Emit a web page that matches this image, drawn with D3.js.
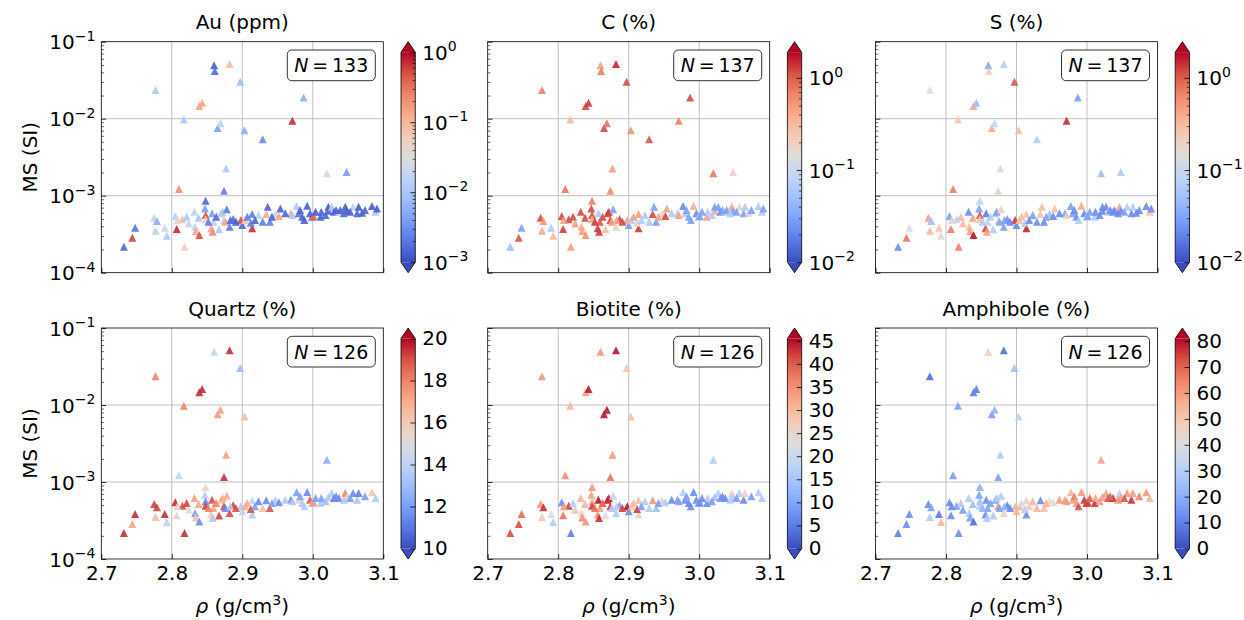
<!DOCTYPE html>
<html>
<head>
<meta charset="utf-8">
<script src="https://d3js.org/d3.v7.min.js"></script>
<style>
  body { margin: 0; background: #fff; }
  text { font-family: 'DejaVu Sans', sans-serif; }
</style>
</head>
<body>
<div id="chart"></div>
<script>
// shared sample positions: density (g/cm3) and magnetic susceptibility (SI)
const rho = [
  2.777, 2.860, 2.861, 2.882, 2.897, 2.839, 2.843, 2.817, 2.865, 2.869,
  2.903, 2.929, 2.971, 2.987, 3.020, 3.048, 2.877, 2.810, 2.874, 2.848,
  2.732, 2.744, 2.748, 2.775, 2.779, 2.777, 2.790, 2.793, 2.805, 2.807,
  2.818, 2.815, 2.821, 2.808, 2.832, 2.833, 2.834, 2.839, 2.847, 2.848,
  2.848, 2.857, 2.856, 2.858, 2.859, 2.867, 2.870, 2.872, 2.874, 2.878,
  2.876, 2.882, 2.887, 2.900, 2.898, 2.904, 2.914, 2.914, 2.912, 2.923,
  2.929, 2.934, 2.936, 2.939, 2.947, 2.952, 2.954, 2.969, 2.971, 2.977,
  2.980, 2.985, 2.988, 2.992, 2.996, 2.999, 3.001, 3.011, 3.012, 3.022,
  3.022, 3.027, 3.030, 3.037, 3.039, 3.046, 3.048, 3.057, 3.063, 3.065,
  3.070, 3.084, 3.089, 3.091,
  2.863, 2.883, 2.891, 2.907, 2.918, 2.942, 2.961, 2.982, 3.004, 3.018,
  3.033, 3.044, 3.053, 3.074, 2.852, 2.838, 2.824
];
const ms = [
  0.0236, 0.0493, 0.0416, 0.0513, 0.0303, 0.0146, 0.0161, 0.0098, 0.0076, 0.0087,
  0.0071, 0.0054, 0.0094, 0.0189, 0.00195, 0.00203, 0.00226, 0.00122, 0.00116, 0.00086,
  2.18e-4, 2.85e-4, 3.84e-4, 5.18e-4, 4.69e-4, 3.51e-4, 3.84e-4, 3.03e-4, 5.44e-4, 3.69e-4,
  2.18e-4, 4.93e-4, 5.33e-4, 4.83e-4, 6.19e-4, 3.95e-4, 3.47e-4, 3.08e-4, 6.84e-4, 5.61e-4,
  4.93e-4, 5.90e-4, 3.77e-4, 3.41e-4, 4.59e-4, 3.66e-4, 5.90e-4, 6.19e-4, 4.83e-4, 6.65e-4,
  4.59e-4, 3.95e-4, 4.98e-4, 4.16e-4, 4.83e-4, 4.83e-4, 3.77e-4, 5.78e-4, 4.46e-4, 5.61e-4,
  4.59e-4, 5.78e-4, 7.19e-4, 4.59e-4, 5.78e-4, 5.44e-4, 6.84e-4, 5.90e-4, 5.61e-4, 7.35e-4,
  5.90e-4, 5.33e-4, 4.83e-4, 7.41e-4, 5.90e-4, 5.33e-4, 5.44e-4, 5.33e-4, 6.19e-4, 6.38e-4,
  7.19e-4, 7.19e-4, 6.19e-4, 6.19e-4, 6.51e-4, 7.19e-4, 6.38e-4, 7.19e-4, 5.90e-4, 7.19e-4,
  6.01e-4, 7.35e-4, 6.19e-4, 6.84e-4,
  5.33e-4, 4.83e-4, 4.59e-4, 5.33e-4, 4.83e-4, 5.33e-4, 5.90e-4, 6.51e-4, 6.19e-4, 5.61e-4,
  6.51e-4, 5.90e-4, 6.19e-4, 6.51e-4, 4.59e-4, 5.18e-4, 4.37e-4
];

// colour values per panel (null = not analysed)
const au = [
  0.011, 0.0014, 0.0017, 0.09, 0.0079, 0.14, 0.14, 0.011, 0.004, 0.014,
  0.0056, 0.0028, 0.71, 0.0056, 0.045, 0.004, 0.011, 0.22, 0.0023, 0.0016,
  0.0016, 0.58, 0.0018, 0.016, 0.0056, 0.014, 0.022, 0.011, 0.014, 0.71,
  0.045, 0.09, 0.011, 0.045, 0.014, 0.016, 0.14, 0.5, 0.004, 0.5,
  0.045, 0.004, 0.14, 0.22, 0.014, 0.011, 0.014, 0.011, 0.016, 0.0022,
  0.14, 0.0022, 0.0018, 0.0016, 0.5, 0.072, 0.71, 0.0022, 0.0022, 0.014,
  0.0022, 0.13, 0.0015, 0.0022, 0.016, 0.14, 0.0015, 0.14, 0.011, 0.011,
  0.0018, 0.0014, 0.0014, 0.0014, 0.0013, 0.0015, 0.35, 0.0014, 0.0015, 0.0014,
  0.0013, 0.011, 0.0014, 0.014, 0.0014, 0.0013, 0.0013, 0.014, 0.0015, 0.0013,
  0.0015, 0.0013, 0.011, 0.0013,
  0.0016, 0.0016, 0.0013, 0.0022, 0.0014, 0.0014, 0.0015, 0.0014, 0.0013, 0.0015,
  0.0014, 0.0016, 0.0014, 0.0015, 0.0022, 0.011, 0.016
];
const carbon = [
  0.69, 0.45, 0.69, 1.5, 1.17, 1.17, 1.3, 0.31, 1.17, 0.77,
  0.53, 1.05, 0.69, 1.17, 0.77, 0.18, 0.45, 0.77, 0.62, 0.69,
  0.049, 1.05, 0.029, 1.17, 0.53, 0.41, 0.064, 0.31, 1.17, 1.3,
  0.45, 1.17, 1.17, 0.45, 1.17, 0.41, 0.45, 0.53, 1.17, 1.17,
  0.41, 0.064, 1.3, 1.3, 1.05, 0.27, 1.17, 1.3, 1.17, 0.029,
  0.45, 0.2, 1.17, 0.029, 0.45, 0.064, 1.3, 0.45, 0.18, 0.064,
  0.064, 1.17, 0.029, 0.029, 0.18, 1.17, 0.45, 0.075, 0.45, 0.022,
  0.064, 0.029, 0.029, 0.37, 0.022, 0.064, 0.029, 0.45, 0.064, 0.41,
  0.029, 0.029, 0.022, 0.064, 0.029, 0.41, 0.029, 0.18, 0.029, 0.064,
  0.18, 0.064, 0.064, 0.029,
  1.17, 0.45, 1.17, 0.45, 0.064, 0.45, 0.064, 0.029, 0.029, 0.064,
  0.029, 0.064, 0.029, 0.029, 1.3, 1.17, 0.45
];
const sulfur = [
  0.14, 0.032, 0.2, 0.075, 1.05, 0.41, 0.049, 0.24, 0.37, 0.083,
  0.31, 0.064, 1.5, 0.029, 0.049, 0.064, 0.108, 0.69, 0.2, 0.083,
  0.022, 0.77, 0.127, 0.45, 0.049, 0.31, 0.27, 0.14, 0.029, 0.69,
  0.69, 0.075, 0.31, 0.18, 0.022, 0.31, 0.45, 1.7, 0.029, 1.05,
  0.27, 0.019, 1.17, 0.45, 0.083, 0.064, 0.064, 0.029, 0.18, 0.21,
  0.029, 0.029, 0.022, 0.022, 1.3, 0.27, 1.5, 0.27, 0.064, 0.029,
  0.022, 0.27, 0.31, 0.022, 0.049, 0.022, 0.27, 0.029, 0.21, 0.029,
  0.029, 0.022, 0.064, 0.41, 0.022, 0.064, 0.029, 0.064, 0.022, 0.022,
  0.022, 0.022, 0.064, 0.022, 0.022, 0.41, 0.022, 0.064, 0.022, 0.064,
  0.022, 0.022, 0.27, 0.022,
  0.064, 0.029, 0.022, 0.31, 0.022, 0.029, 0.022, 0.022, 0.029, 0.022,
  0.022, 0.022, 0.029, 0.022, 0.064, 0.45, 0.31
];
const quartz = [
  18, 14, null, 19.5, 13, 19.5, 19.5, 18, 17.5, 17.2,
  16.5, null, null, null, 12.5, null, 17.2, 14, 19.5, 15.5,
  19.5, 17.2, 19.5, 19.2, 19.2, 16.5, 19.5, 14, 19.5, 15.5,
  19.5, 19, 19.2, 15.5, 17.2, 12, 16.5, 11.5, 13.8, 11.5,
  19.2, 19, 16.2, 13.5, 17.2, 19.2, 16.5, 17, 19.2, 17,
  11.5, 19, 19.2, 14, 13.5, 17, 13.5, 14, 19, 11.5,
  16.5, 11.5, null, 19, 13.5, 11.5, null, 11.5, 13.5, 12,
  15.5, 13.5, 13.5, 11.5, 18.8, 13.5, 17.5, 13.5, 12, 13.5,
  null, 13.5, 11.2, 11.5, null, 18, 15.8, 11.5, 13.5, 11.2,
  null, 16.2, 13.5, null,
  18, 13.5, 19, 17, 12, 12, 13.5, 12, 12, 13,
  11.5, 13.5, 12, 12, 18, 17, 15
];
const biotite = [
  34, 34, null, 44.5, 28, 33, 44.5, 30.5, 44.5, 44.5,
  29, null, null, null, 16.5, null, 34, 35, 37.5, 34,
  41, 41, 38.5, 34, 43, 27, 22, 16.5, 7, 37.5,
  5.5, 42, 16.5, 34, 30.5, 26, 35, 34, 33, 30.5,
  42, 44.5, 34, 43, 33, 22.5, 44.5, 43, 42, 19,
  16.5, 16.5, 9.5, 7, 44.5, 28, 26, 29, 42, 16.5,
  16.5, 34, null, 14, 26, 16.5, null, 9.5, 9.5, 16.5,
  7, 7, 7, 7, 7, 9.5, 7, 7, 16.5, 14,
  null, 16.5, 9.5, 7, null, 26, 16.5, 16.5, 7, 26,
  null, 16.5, 16.5, null,
  40, 16.5, 42, 30, 9, 9, 7, 9.5, 7, 9,
  7, 16.5, 9, 9, 38, 30, 28
];
const amphibole = [
  6.5, 47, null, 6.5, 25, 10, 10, 16.5, 16.5, 21,
  31.5, null, null, null, 58, null, 29, 16.5, 16.5, 21,
  10, 12.5, 12.5, 12.5, 16.5, 29, 8.3, 54, 12.5, 12.5,
  12.5, 16.5, 29, 12.5, 29, 29, 16.5, 6.5, 16.5, 25,
  29, 12.5, 12.5, 29, 16.5, 29, 16.5, 29, 62, 29,
  16.5, 47, 10, 54, 54, 54, 12.5, 45.5, 29, 54,
  54, 12.5, null, 51.5, 41.5, 41.5, null, 60, 60, 54,
  60, 60, 73, 60, 76, 75, 75, 76, 58, 60,
  null, 58, 73, 76, null, 33, 58, 60, 76, 60,
  null, 60, 54, null,
  16.5, 21, 12.5, 40, 50, 55, 60, 65, 70, 60,
  70, 62, 72, 65, 21, 25, 16.5
];

const titles = ['Au (ppm)', 'C (%)', 'S (%)', 'Quartz (%)', 'Biotite (%)', 'Amphibole (%)'];
const nCounts = [133, 137, 137, 126, 126, 126];
const cbLog = [true, true, true, false, false, false];
const cbDomains = [[1e-3, 1], [1e-2, 1.9], [1e-2, 1.9], [10, 20], [0, 45.5], [0, 81]];
const cbTicks = [
  [1e-3, 1e-2, 1e-1, 1], [1e-2, 1e-1, 1], [1e-2, 1e-1, 1],
  [10, 12, 14, 16, 18, 20], [0, 5, 10, 15, 20, 25, 30, 35, 40, 45], [0, 10, 20, 30, 40, 50, 60, 70, 80]
];
const xTicks = [2.7, 2.8, 2.9, 3.0, 3.1];
const yTicks = [1e-4, 1e-3, 1e-2, 1e-1];

const panelValues = [au, carbon, sulfur, quartz, biotite, amphibole];

// layout
const W = 1244, H = 620;
const plotW = 282, plotH = 231;
const colLeft = [101.3, 487.7, 875.5];
const rowTop = [41.7, 328];
const cbGap = 17.7, cbW = 14.3;
const FS = 20;

const coolwarm = d3.piecewise(d3.interpolateRgb, [
  '#3b4cc0', '#5977e3', '#7b9ff9', '#9ebeff', '#c0d4f5', '#dddcdc',
  '#f2cbb7', '#f7ac8e', '#ee8468', '#d65244', '#b40426'
]);

const svg = d3.select('#chart').append('svg')
  .attr('width', W).attr('height', H)
  .style('background', '#fff');

const grad = svg.append('defs').append('linearGradient')
  .attr('id', 'cw').attr('x1', 0).attr('y1', 1).attr('x2', 0).attr('y2', 0);
d3.range(0, 1.0001, 0.05).forEach(t => {
  grad.append('stop').attr('offset', t).attr('stop-color', coolwarm(t));
});

const x = d3.scaleLinear().domain([2.7, 3.1]).range([0, plotW]);
const y = d3.scaleLog().domain([1e-4, 1e-1]).range([plotH, 0]);

function logMinors(lo, hi) {
  const out = [];
  for (let e = Math.floor(Math.log10(lo)); e <= Math.ceil(Math.log10(hi)); e++) {
    for (let k = 2; k <= 9; k++) {
      const v = k * Math.pow(10, e);
      if (v >= lo * 0.999 && v <= hi * 1.001) out.push(v);
    }
  }
  return out;
}

// "10^e" label with a raised exponent
function powLabel(g, px, py, v, anchor) {
  const e = Math.round(Math.log10(v));
  const t = g.append('text')
    .attr('x', px).attr('y', py + 7.5)
    .attr('text-anchor', anchor)
    .attr('font-size', FS);
  t.append('tspan').text('10');
  t.append('tspan').attr('dy', -8.5).attr('font-size', FS * 0.7)
    .text(e < 0 ? '\u2212' + Math.abs(e) : String(e));
}

function styleAxis(sel, w) {
  sel.select('.domain').remove();
  sel.selectAll('.tick line').attr('stroke', '#000').attr('stroke-width', w);
  sel.selectAll('text').attr('font-size', FS).attr('font-family', 'DejaVu Sans').attr('fill', '#000');
}

panelValues.forEach((vals, i) => {
  const row = Math.floor(i / 3), col = i % 3;
  const g = svg.append('g').attr('transform', `translate(${colLeft[col]},${rowTop[row]})`);

  // grid
  g.selectAll('line.gx').data(xTicks.slice(1, -1)).join('line')
    .attr('x1', d => x(d)).attr('x2', d => x(d)).attr('y1', 0).attr('y2', plotH)
    .attr('stroke', '#b0b0b0').attr('stroke-width', 0.8);
  g.selectAll('line.gy').data(yTicks.slice(1, -1)).join('line')
    .attr('y1', d => y(d)).attr('y2', d => y(d)).attr('x1', 0).attr('x2', plotW)
    .attr('stroke', '#b0b0b0').attr('stroke-width', 0.8);

  // colour scale for this panel
  const norm = (cbLog[i] ? d3.scaleLog() : d3.scaleLinear())
    .domain(cbDomains[i]).range([0, 1]).clamp(true);

  const pts = rho.map((r, k) => ({ r, m: ms[k], v: vals[k] })).filter(d => d.v !== null);
  const s = 8;
  g.selectAll('path.pt').data(pts).join('path')
    .attr('class', 'pt')
    .attr('transform', d => `translate(${x(d.r)},${y(d.m)})`)
    .attr('d', `M0,${-s / 2}L${s / 2},${s / 2}L${-s / 2},${s / 2}Z`)
    .attr('fill', d => coolwarm(norm(d.v)))
    .attr('fill-opacity', 0.9);

  // ticks (inward)
  const xa = g.append('g').attr('transform', `translate(0,${plotH})`)
    .call(d3.axisBottom(x).tickValues(xTicks).tickSize(-4.9).tickPadding(7)
      .tickFormat(row === 1 ? d3.format('.1f') : () => ''));
  styleAxis(xa, 0.8);
  const ya = g.append('g').call(d3.axisLeft(y).tickValues(yTicks).tickSize(-4.9).tickFormat(() => ''));
  styleAxis(ya, 0.8);
  const ym = g.append('g').call(d3.axisLeft(y).tickValues(logMinors(1e-4, 1e-1)).tickSize(-2.8).tickFormat(() => ''));
  styleAxis(ym, 0.6);

  if (col === 0) {
    yTicks.forEach(v => powLabel(g, -6, y(v), v, 'end'));
    g.append('text')
      .attr('transform', `translate(-64,${plotH / 2}) rotate(-90)`)
      .attr('text-anchor', 'middle').attr('font-size', FS)
      .text('MS (SI)');
  }
  if (row === 1) {
    const xl = g.append('text')
      .attr('x', plotW / 2).attr('y', plotH + 54)
      .attr('text-anchor', 'middle').attr('font-size', FS);
    xl.append('tspan').attr('font-style', 'italic').text('\u03c1');
    xl.append('tspan').text(' (g/cm');
    xl.append('tspan').attr('dy', -8).attr('font-size', FS * 0.7).text('3');
    xl.append('tspan').attr('dy', 8).text(')');
  }

  // frame
  g.append('rect').attr('width', plotW).attr('height', plotH)
    .attr('fill', 'none').attr('stroke', '#000').attr('stroke-width', 0.8);

  // title
  g.append('text').attr('x', plotW / 2).attr('y', -12.5)
    .attr('text-anchor', 'middle').attr('font-size', FS)
    .text(titles[i]);

  // N box
  const nb = g.append('g');
  const nt = nb.append('text').attr('font-size', FS * 0.95).attr('text-anchor', 'end')
    .attr('x', plotW - 8 - 7).attr('y', 30.5);
  nt.append('tspan').attr('font-style', 'italic').text('N');
  nt.append('tspan').text('\u2009=\u2009' + nCounts[i]);
  const bb = nt.node().getBBox();
  nb.insert('rect', 'text')
    .attr('x', bb.x - 7).attr('y', 8.3)
    .attr('width', bb.width + 14).attr('height', 30.7)
    .attr('rx', 4.5).attr('ry', 4.5)
    .attr('fill', '#fff').attr('stroke', '#333').attr('stroke-width', 1);

  // colour bar with extend triangles
  const L = plotH / 1.1, ext = 0.05 * L;
  const cb = svg.append('g')
    .attr('transform', `translate(${colLeft[col] + plotW + cbGap},${rowTop[row]})`);
  cb.append('rect').attr('y', ext).attr('width', cbW).attr('height', L).attr('fill', 'url(#cw)');
  cb.append('path').attr('d', `M0,${ext}L${cbW / 2},0L${cbW},${ext}Z`).attr('fill', coolwarm(1));
  cb.append('path').attr('d', `M0,${ext + L}L${cbW / 2},${plotH}L${cbW},${ext + L}Z`).attr('fill', coolwarm(0));
  cb.append('path')
    .attr('d', `M0,${ext}L${cbW / 2},0L${cbW},${ext}L${cbW},${ext + L}L${cbW / 2},${plotH}L0,${ext + L}Z`)
    .attr('fill', 'none').attr('stroke', '#000').attr('stroke-width', 0.8);

  const cs = (cbLog[i] ? d3.scaleLog() : d3.scaleLinear()).domain(cbDomains[i]).range([ext + L, ext]);
  const ca = cb.append('g').attr('transform', `translate(${cbW},0)`)
    .call(d3.axisRight(cs).tickValues(cbTicks[i]).tickSize(-4.9).tickPadding(7)
      .tickFormat(cbLog[i] ? () => '' : d3.format('d')));
  styleAxis(ca, 0.8);
  if (cbLog[i]) {
    const cm = cb.append('g').attr('transform', `translate(${cbW},0)`)
      .call(d3.axisRight(cs).tickValues(logMinors(cbDomains[i][0], cbDomains[i][1])).tickSize(-2.8).tickFormat(() => ''));
    styleAxis(cm, 0.6);
    cbTicks[i].forEach(v => powLabel(cb, cbW + 7, cs(v), v, 'start'));
  }
});
</script>
</body>
</html>
